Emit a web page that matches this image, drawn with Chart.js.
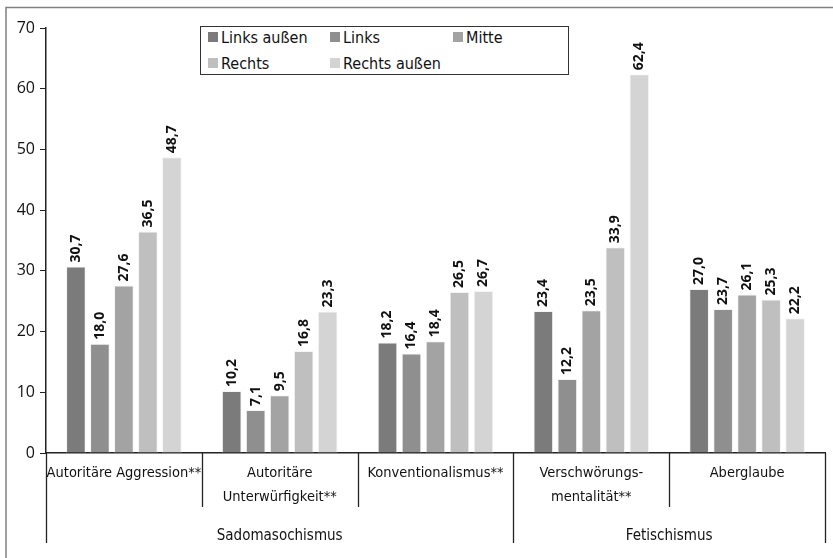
<!DOCTYPE html>
<html>
<head>
<meta charset="utf-8">
<script src="https://cdn.jsdelivr.net/npm/chart.js@4"></script>
<style>
  html, body { margin: 0; padding: 0; background: #fff; }
  #wrap { position: relative; width: 833px; height: 558px; }
  #legend {
    position: absolute; left: 200px; top: 26px; width: 369px; height: 49px;
    border: 1px solid #333; box-sizing: border-box; background: #fff;
    font-family: "DejaVu Sans Condensed", sans-serif;
    font-size: 16px; color: #111;
  }
  .item { position: absolute; display: flex; align-items: center; white-space: nowrap; }
  .sw { width: 10px; height: 10px; margin-right: 3px; }
</style>
</head>
<body>
<div id="wrap">
  <canvas id="c" width="833" height="558"></canvas>
  <div id="legend"></div>
</div>
<script>
const categories = [
  ["Autoritäre Aggression**"],
  ["Autoritäre", "Unterwürfigkeit**"],
  ["Konventionalismus**"],
  ["Verschwörungs-", "mentalität**"],
  ["Aberglaube"]
];
const groupLabels = ["Sadomasochismus", "Fetischismus"];
const groupSizes = [3, 2];
const seriesNames = ["Links außen", "Links", "Mitte", "Rechts", "Rechts außen"];
const linksAussen  = [30.7, 10.2, 18.2, 23.4, 27.0];
const links        = [18.0,  7.1, 16.4, 12.2, 23.7];
const mitte        = [27.6,  9.5, 18.4, 23.5, 26.1];
const rechts       = [36.5, 16.8, 26.5, 33.9, 25.3];
const rechtsAussen = [48.7, 23.3, 26.7, 62.4, 22.2];
const yTicks = [0, 10, 20, 30, 40, 50, 60, 70];

const seriesValues = [linksAussen, links, mitte, rechts, rechtsAussen];
const colors = ["#7b7b7b", "#8f8f8f", "#a3a3a3", "#bfbfbf", "#d4d4d4"];

const narrow = '"DejaVu Sans Condensed", sans-serif';

// HTML legend
const legendPos = [[7, 10], [129, 10], [252, 10], [7, 36], [129, 36]];
const lg = document.getElementById('legend');
seriesNames.forEach((n, i) => {
  const d = document.createElement('div');
  d.className = 'item';
  d.style.left = legendPos[i][0] + 'px';
  d.style.top = (legendPos[i][1] - 10) + 'px';
  d.style.height = '20px';
  d.innerHTML = '<span class="sw" style="background:' + colors[i] + '"></span><span>' + n + '</span>';
  lg.appendChild(d);
});

const decor = {
  id: 'decor',
  afterDraw(chart) {
    const ctx = chart.ctx;
    const x = chart.scales.x;
    const area = chart.chartArea;
    ctx.save();
    // frame
    ctx.strokeStyle = '#808080';
    ctx.lineWidth = 1.5;
    ctx.beginPath();
    ctx.moveTo(6, 558); ctx.lineTo(6, 7.5); ctx.lineTo(833, 7.5);
    ctx.stroke();

    // category boundaries
    const n = categories.length;
    const bounds = [];
    for (let i = 0; i <= n; i++) {
      if (i === 0) bounds.push(area.left);
      else if (i === n) bounds.push(area.right);
      else bounds.push((x.getPixelForValue(i - 1) + x.getPixelForValue(i)) / 2);
    }
    const groupEdges = [0];
    groupSizes.reduce((a, s) => { groupEdges.push(a + s); return a + s; }, 0);
    ctx.strokeStyle = '#222';
    ctx.lineWidth = 1.3;
    bounds.forEach((bx, i) => {
      const isGroup = groupEdges.includes(i);
      ctx.beginPath();
      ctx.moveTo(Math.round(bx) + 0.5, area.bottom);
      ctx.lineTo(Math.round(bx) + 0.5, area.bottom + (isGroup ? 90 : 54));
      ctx.stroke();
    });
    // group labels
    ctx.fillStyle = '#111';
    ctx.font = '15px ' + narrow;
    ctx.textAlign = 'center';
    ctx.textBaseline = 'middle';
    groupLabels.forEach((g, gi) => {
      const cx = (bounds[groupEdges[gi]] + bounds[groupEdges[gi + 1]]) / 2;
      ctx.fillText(g, cx, area.bottom + 83);
    });
    // value labels
    ctx.font = 'bold 14px "Open Sans", sans-serif';
    ctx.textAlign = 'left';
    ctx.textBaseline = 'middle';
    chart.data.datasets.forEach((ds, di) => {
      const meta = chart.getDatasetMeta(di);
      meta.data.forEach((bar, j) => {
        const v = ds.data[j];
        const txt = v.toFixed(1).replace('.', ',');
        ctx.save();
        ctx.translate(bar.x, bar.y - 4);
        ctx.rotate(-Math.PI / 2);
        ctx.fillText(txt, 0, 0);
        ctx.restore();
      });
    });
    ctx.restore();
  }
};

new Chart(document.getElementById('c'), {
  type: 'bar',
  data: {
    labels: categories,
    datasets: seriesNames.map((n, i) => ({
      label: n,
      data: seriesValues[i],
      backgroundColor: colors[i],
      borderColor: '#f4f4f4',
      borderWidth: 1,
      categoryPercentage: 0.77,
      barPercentage: 0.82
    }))
  },
  options: {
    responsive: false,
    animation: false,
    devicePixelRatio: 1,
    layout: { padding: { top: 28, right: 8, left: 0, bottom: 0 } },
    plugins: { legend: { display: false }, tooltip: { enabled: false } },
    scales: {
      x: {
        grid: { display: false },
        border: { display: true, color: '#222', width: 1.5 },
        ticks: {
          color: '#111',
          font: { family: narrow, size: 14.5, lineHeight: 1.65 },
          padding: 0,
          maxRotation: 0,
          autoSkip: false
        },
        afterFit(s) { s.height = 105; }
      },
      y: {
        min: 0, max: 70,
        afterBuildTicks(s) { s.ticks = yTicks.map(v => ({ value: v })); },
        grid: { drawOnChartArea: false, drawTicks: true, tickLength: 6, color: '#222' },
        border: { display: true, color: '#222', width: 1.5 },
        ticks: {
          color: '#111',
          font: { family: '"Open Sans", sans-serif', size: 16 },
          padding: 5
        },
        afterFit(s) { s.width = 46; }
      }
    }
  },
  plugins: [decor]
});
</script>
</body>
</html>
